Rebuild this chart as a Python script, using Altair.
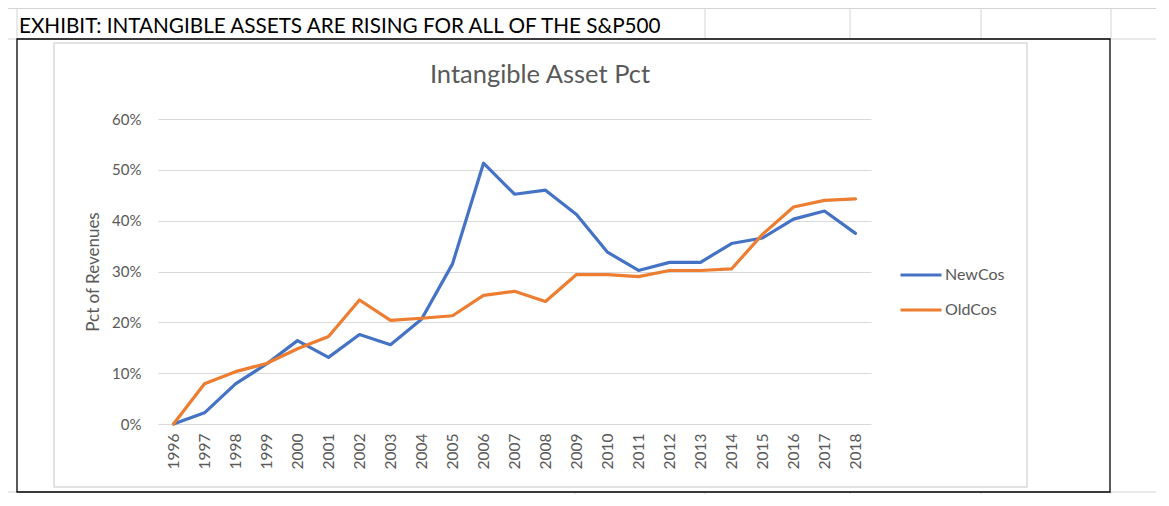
import altair as alt
import pandas as pd

# ---- data ----
years = ["1996", "1997", "1998", "1999", "2000", "2001", "2002", "2003", "2004",
         "2005", "2006", "2007", "2008", "2009", "2010", "2011", "2012", "2013",
         "2014", "2015", "2016", "2017", "2018"]
new_cos = [0.0, 2.2, 7.9, 11.8, 16.4, 13.1, 17.6, 15.6, 20.6, 31.5, 51.3, 45.2,
           46.0, 41.2, 33.8, 30.2, 31.8, 31.8, 35.5, 36.6, 40.3, 41.9, 37.5]
old_cos = [0.0, 7.9, 10.3, 11.9, 14.8, 17.2, 24.4, 20.4, 20.8, 21.3, 25.3, 26.1,
           24.1, 29.4, 29.4, 29.0, 30.2, 30.2, 30.5, 37.3, 42.7, 44.0, 44.3]
series_names = ["NewCos", "OldCos"]
series_colors = ["#4472C4", "#ED7D31"]
y_ticks = [0.0, 0.1, 0.2, 0.3, 0.4, 0.5, 0.6]

exhibit_text = "EXHIBIT: INTANGIBLE ASSETS ARE RISING FOR ALL OF THE S&P500"
chart_title = "Intangible Asset Pct"
y_title = "Pct of Revenues"

rows = []
for name, vals in zip(series_names, [new_cos, old_cos]):
    for yr, v in zip(years, vals):
        rows.append({"Year": yr, "Series": name, "Pct": v / 100.0})
df = pd.DataFrame(rows)

# ---- layout (plot area placed by padding, autosize none) ----
PAD_L, PAD_T = 150, 111
W, H = 713, 305
OX, OY = 8 + PAD_L, 8 + PAD_T  # page position of plot origin

one = pd.DataFrame({"k": [0]})
FONT = "Lato"
GRAY_TXT = "#595959"
SHEET = "#D4D4D4"

def px(x):
    return x - OX

def py(y):
    return y - OY

layers = []

# spreadsheet cell lines (horizontal: y, x1, x2 ; vertical: x, y1, y2)
sheet_h = [(8.5, 8, 1161), (39, 8, 1161), (492, 8, 1161)]
sheet_v = [(184, 8, 8.5), (315, 8, 8.5), (445, 8, 8.5), (575, 8, 8.5),
           (705, 8, 39), (850, 8, 39), (981, 8, 39), (1111, 8, 39),
           (17, 8, 39),
           (575, 492, 498), (705, 492, 498), (850, 492, 498), (981, 492, 498),
           (1111, 492, 498)]
for (y, x1, x2) in sheet_h:
    layers.append(alt.Chart(one).mark_rule(color=SHEET, strokeWidth=1).encode(
        x=alt.value(px(x1)), x2=alt.value(px(x2)), y=alt.value(py(y))))
for (x, y1, y2) in sheet_v:
    layers.append(alt.Chart(one).mark_rule(color=SHEET, strokeWidth=1).encode(
        x=alt.value(px(x)), y=alt.value(py(y1)), y2=alt.value(py(y2))))

# black frame and inner chart-area border
layers.append(alt.Chart(one).mark_rect(fill="transparent", stroke="black", strokeWidth=1.3).encode(
    x=alt.value(px(17)), x2=alt.value(px(1110)), y=alt.value(py(39)), y2=alt.value(py(492))))
layers.append(alt.Chart(one).mark_rect(fill="transparent", stroke="#D9D9D9", strokeWidth=1.5).encode(
    x=alt.value(px(54)), x2=alt.value(px(1027)), y=alt.value(py(43)), y2=alt.value(py(487))))

# exhibit heading (spreadsheet cell text)
layers.append(alt.Chart(one).mark_text(align="left", baseline="alphabetic", font=FONT,
                                       fontSize=20.7, color="black").encode(
    x=alt.value(px(19)), y=alt.value(py(33)), text=alt.value(exhibit_text)))

# chart title
layers.append(alt.Chart(one).mark_text(align="center", baseline="alphabetic", font=FONT,
                                       fontSize=25.5, color=GRAY_TXT).encode(
    x=alt.value(px(540)), y=alt.value(py(83)), text=alt.value(chart_title)))

lines = alt.Chart(df).mark_line(strokeWidth=3.2, strokeJoin="round", strokeCap="round").encode(
    x=alt.X("Year:O", sort=years, title=None,
            axis=alt.Axis(labelAngle=270, labelFontSize=15.5, labelColor=GRAY_TXT, labelFont=FONT,
                          ticks=False, domain=False, labelPadding=9, grid=False)),
    y=alt.Y("Pct:Q", scale=alt.Scale(domain=[0, 0.6], nice=False), title=y_title,
            axis=alt.Axis(values=y_ticks, format=".0%", labelFontSize=15, labelColor=GRAY_TXT,
                          labelFont=FONT, ticks=False, domain=False, labelPadding=17,
                          gridColor="#D9D9D9", gridWidth=1.2,
                          titleFont=FONT, titleFontSize=17, titleFontWeight="normal",
                          titleColor=GRAY_TXT, titlePadding=9)),
    color=alt.Color("Series:N", scale=alt.Scale(domain=series_names, range=series_colors),
                    legend=alt.Legend(title=None, orient="none", legendX=741, legendY=134,
                                      symbolType="stroke", symbolSize=1681, symbolStrokeWidth=3,
                                      labelFont=FONT, labelFontSize=16, labelColor=GRAY_TXT,
                                      labelOffset=2, rowPadding=5)),
)
layers.append(lines)

chart = alt.layer(*layers).properties(
    width=W, height=H,
    autosize=alt.AutoSizeParams(type="none"),
    padding={"left": PAD_L, "top": PAD_T, "right": 285, "bottom": 70},
    background="white",
).configure_view(stroke=None)

chart.save("out.html", embed_options={"renderer": "svg", "actions": False})
